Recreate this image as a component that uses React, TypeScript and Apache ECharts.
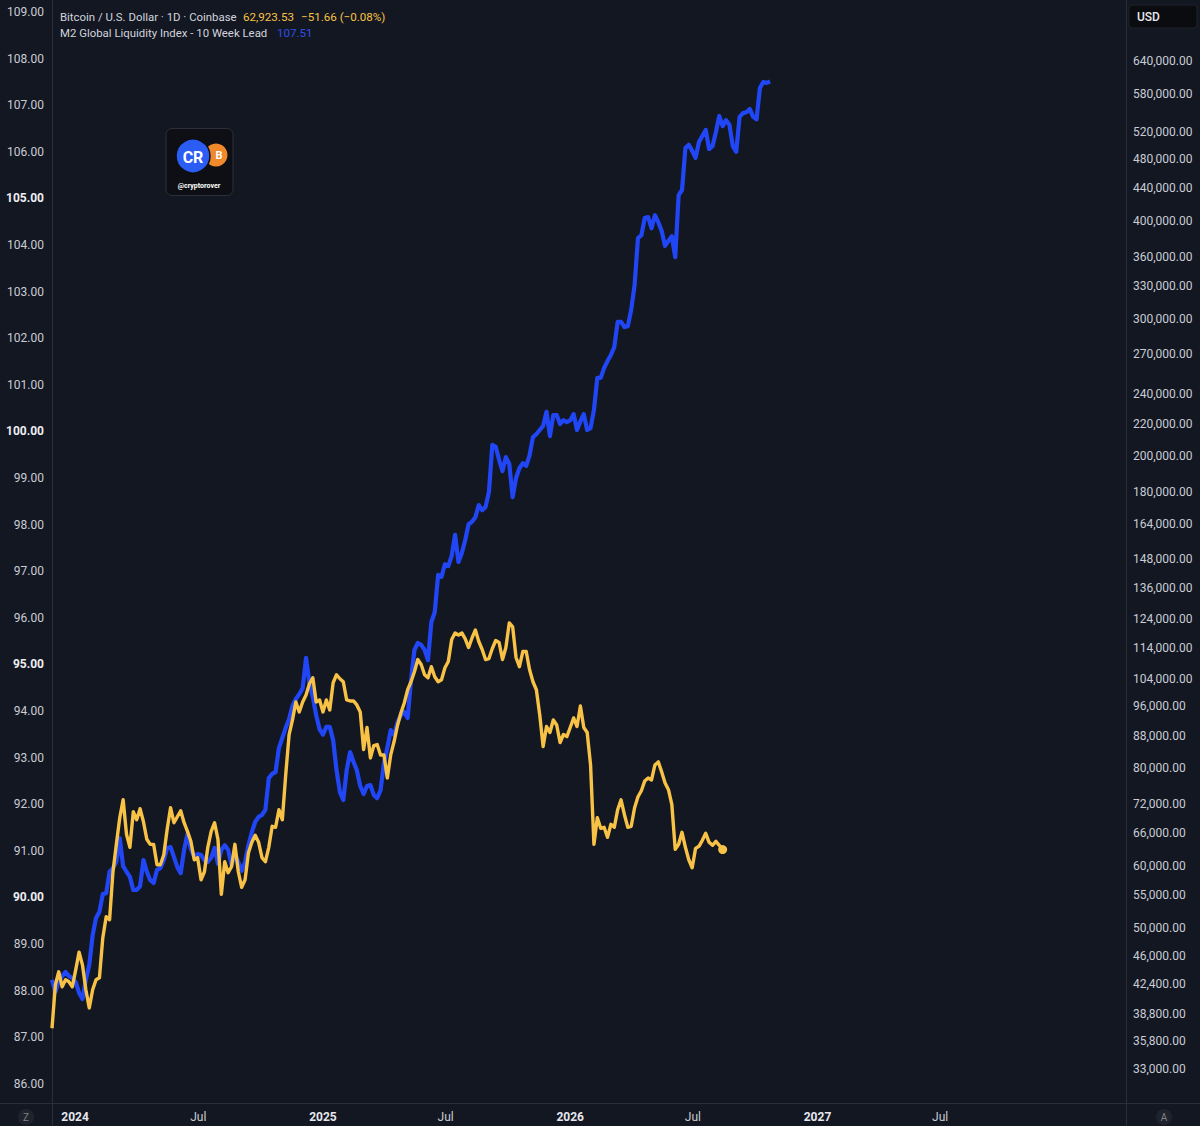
import React, { useEffect, useRef } from 'react';
import * as echarts from 'echarts';

// ---------- data ----------
const SERIES_START = '2023-11-28';
const STEP_DAYS = 5;

// M2 Global Liquidity Index - 10 Week Lead (left axis), one value every 5 days
const m2Values = [
  88.23, 87.97, 88.21, 88.31, 88.40, 88.31, 88.27, 88.18, 87.95, 87.82,
  88.23, 88.55, 89.19, 89.56, 89.69, 90.07, 90.09, 90.55, 90.63, 90.76,
  91.27, 90.67, 90.55, 90.44, 90.16, 90.16, 90.24, 90.80, 90.55, 90.37,
  90.31, 90.59, 90.63, 90.80, 91.06, 91.08, 90.87, 90.65, 90.52, 91.02,
  91.36, 91.04, 90.87, 90.93, 90.91, 90.80, 90.76, 90.85, 91.06, 90.72,
  91.02, 91.12, 91.02, 90.70, 90.93, 90.76, 90.57, 90.76, 91.12, 91.40,
  91.62, 91.73, 91.77, 91.88, 92.56, 92.65, 92.69, 93.21, 93.42, 93.64,
  93.83, 94.11, 94.26, 94.36, 94.49, 95.14, 94.60, 94.30, 93.91, 93.61,
  93.49, 93.66, 93.66, 93.38, 92.73, 92.26, 92.09, 92.73, 93.12, 92.91,
  92.73, 92.39, 92.22, 92.39, 92.41, 92.20, 92.13, 92.30, 92.88, 93.21,
  93.59, 93.49, 93.76, 93.91, 93.98, 93.85, 94.67, 95.31, 95.46, 95.42,
  95.31, 95.09, 95.91, 96.12, 96.92, 96.88, 97.15, 97.11, 97.33, 97.78,
  97.20, 97.39, 97.67, 98.01, 98.06, 98.16, 98.42, 98.31, 98.38, 98.70,
  99.71, 99.67, 99.39, 99.15, 99.45, 99.30, 98.59, 99.00, 99.21, 99.32,
  99.26, 99.49, 99.88, 99.94, 100.03, 100.12, 100.42, 99.90, 100.35, 100.35,
  100.16, 100.24, 100.20, 100.24, 100.37, 100.03, 100.22, 100.37, 100.03, 100.07,
  100.46, 101.15, 101.15, 101.36, 101.51, 101.64, 101.81, 102.35, 102.35, 102.24,
  102.26, 102.61, 103.14, 104.15, 104.21, 104.58, 104.60, 104.36, 104.64, 104.49,
  104.30, 103.98, 104.09, 104.19, 103.74, 105.07, 105.18, 106.08, 106.15, 106.02,
  105.87, 106.21, 106.34, 106.47, 106.06, 106.12, 106.42, 106.77, 106.55, 106.68,
  106.58, 106.12, 106.00, 106.75, 106.83, 106.85, 106.92, 106.75, 106.70, 107.37,
  107.50, 107.48, 107.51,
];

// Bitcoin / U.S. Dollar (right, log axis), one value every 5 days
const btcValues = [
  37200, 42280, 43920, 42030, 42900, 42650, 42030, 44180, 46540, 44800,
  41660, 39490, 41660, 42900, 43150, 48550, 51640, 51190, 58950, 63900,
  69100, 72850, 65800, 63340, 70330, 68690, 70950, 68290, 64850, 63900,
  63900, 60180, 60180, 61970, 66780, 71160, 68090, 69300, 70530, 68090,
  66390, 64470, 61070, 61430, 57580, 58950, 63340, 66390, 68090, 64850,
  55160, 60710, 58780, 59820, 63900, 58950, 56310, 57580, 62340, 64280,
  65610, 64280, 61430, 60710, 63340, 67380, 67180, 70740, 68690, 78370,
  88260, 92130, 97140, 94320, 97140, 99160, 102480, 104300, 97140, 97710,
  94320, 97710, 94880, 102780, 105230, 104000, 103090, 97710, 97420, 97420,
  96280, 94320, 84450, 90100, 82390, 85450, 85700, 83120, 83120, 77680,
  83120, 86460, 90630, 94040, 96850, 100690, 103090, 106160, 110050, 108440,
  105230, 104300, 107740, 104610, 103090, 103700, 107420, 109400, 116710, 119000,
  118300, 119000, 116920, 114000, 117260, 120050, 116030, 113330, 110050, 110370,
  113670, 116370, 115690, 110050, 114000, 122550, 121120, 110700, 107740, 112670,
  112670, 106790, 103090, 100690, 93490, 85200, 90360, 88780, 92130, 90780,
  86210, 88260, 87740, 90100, 92670, 90360, 96000, 90100, 88780, 80710,
  63900, 69100, 66980, 67180, 65230, 67770, 67180, 70740, 72850, 69710,
  67180, 67380, 71160, 73500, 74810, 77000, 77680, 77230, 80710, 81430,
  79070, 76550, 75030, 71790, 62970, 63900, 66200, 63340, 61070, 59650,
  63150, 63530, 64660, 66000, 64280, 63720, 64470, 63720, 62923.53,
];

const leftTicks = [86, 87, 88, 89, 90, 91, 92, 93, 94, 95, 96, 97, 98, 99, 100, 101, 102, 103, 104, 105, 106, 107, 108, 109];
const boldLeftTicks = [90, 95, 100, 105];
const rightTicks = [
  33000, 35800, 38800, 42400, 46000, 50000, 55000, 60000, 66000, 72000, 80000,
  88000, 96000, 104000, 114000, 124000, 136000, 148000, 164000, 180000, 200000,
  220000, 240000, 270000, 300000, 330000, 360000, 400000, 440000, 480000, 520000,
  580000, 640000,
];
const xTickDates = ['2024-01-01', '2024-07-01', '2025-01-01', '2025-07-01', '2026-01-01', '2026-07-01', '2027-01-01', '2027-07-01'];

const btcTitle = 'Bitcoin / U.S. Dollar · 1D · Coinbase';
const btcLastText = '62,923.53';
const btcChangeText = '−51.66 (−0.08%)';
const m2Title = 'M2 Global Liquidity Index - 10 Week Lead';
const m2LastText = '107.51';

// ---------- styles ----------
const BG = '#131722';
const SEP = '#2a2e39';
const BLUE = '#2146f6';
const YELLOW = '#f7c245';
const LABEL = '#c9ccd4';
const FONT = 'Roboto, "Noto Sans", "DejaVu Sans", sans-serif';
const DAY = 86400000;

export default function App() {
  const ref = useRef<HTMLDivElement>(null);

  useEffect(() => {
    document.body.style.margin = '0';
    document.body.style.background = BG;
    if (!ref.current) return;
    const chart = echarts.init(ref.current, undefined, { renderer: 'svg' });

    const t0 = Date.parse(SERIES_START + 'T00:00:00Z');
    const m2Data = m2Values.map((v, i) => [t0 + i * STEP_DAYS * DAY, v]);
    const btcData = btcValues.map((v, i) => [t0 + i * STEP_DAYS * DAY, v]);
    const lastBtc = btcData[btcData.length - 1];
    const xMin = t0;
    const xMax = Date.parse('2024-01-01T00:00:00Z') + 1551.4 * DAY;
    const xTicks = xTickDates.map((d) => Date.parse(d + 'T00:00:00Z'));

    const txt = (x: number, y: number, text: string, fill: string, size = 12, weight: any = 'normal', align = 'left') => ({
      type: 'text',
      x,
      y,
      silent: true,
      style: {
        text,
        fill,
        fontSize: size,
        fontFamily: FONT,
        fontWeight: weight,
        align,
        textAlign: align,
        verticalAlign: 'middle',
        textVerticalAlign: 'middle',
      },
    });

    const option: any = {
      animation: false,
      backgroundColor: BG,
      grid: { left: 52, right: 74, top: 0, bottom: 23, containLabel: false },
      xAxis: {
        type: 'value',
        min: xMin,
        max: xMax,
        axisLine: { show: false },
        axisTick: { show: false },
        splitLine: { show: false },
        axisLabel: {
          customValues: xTicks,
          margin: 8,
          formatter: (v: number) => {
            const d = new Date(v);
            return d.getUTCMonth() === 0 ? `{y|${d.getUTCFullYear()}}` : '{m|Jul}';
          },
          rich: {
            y: { color: '#e6e8ee', fontWeight: 'bold', fontSize: 12, fontFamily: FONT },
            m: { color: LABEL, fontSize: 12, fontFamily: FONT },
          },
        },
      },
      yAxis: [
        {
          type: 'value',
          position: 'left',
          min: 85.588,
          max: 109.258,
          axisLine: { show: false },
          axisTick: { show: false },
          splitLine: { show: false },
          axisLabel: {
            customValues: leftTicks,
            margin: 8,
            formatter: (v: number) => {
              const s = v.toFixed(2);
              return boldLeftTicks.includes(Math.round(v)) ? `{b|${s}}` : `{n|${s}}`;
            },
            rich: {
              b: { color: '#eceef2', fontWeight: 'bold', fontSize: 12, fontFamily: FONT },
              n: { color: LABEL, fontSize: 12, fontFamily: FONT },
            },
          },
        },
        {
          type: 'log',
          position: 'right',
          min: 29858,
          max: 765760,
          axisLine: { show: false },
          axisTick: { show: false },
          splitLine: { show: false },
          axisLabel: {
            customValues: rightTicks,
            margin: 7,
            color: LABEL,
            fontSize: 12,
            fontFamily: FONT,
            formatter: (v: number) =>
              Math.round(v).toLocaleString('en-US', { minimumFractionDigits: 2, maximumFractionDigits: 2 }),
          },
        },
      ],
      series: [
        {
          name: m2Title,
          type: 'line',
          yAxisIndex: 0,
          data: m2Data,
          showSymbol: false,
          symbol: 'none',
          lineStyle: { color: BLUE, width: 4.2, join: 'round' },
          itemStyle: { color: BLUE },
          z: 2,
        },
        {
          name: btcTitle,
          type: 'line',
          yAxisIndex: 1,
          data: btcData,
          showSymbol: false,
          symbol: 'none',
          lineStyle: { color: YELLOW, width: 3.4, join: 'round' },
          itemStyle: { color: YELLOW },
          z: 3,
        },
        {
          type: 'scatter',
          yAxisIndex: 1,
          data: [lastBtc],
          symbolSize: 9,
          itemStyle: { color: YELLOW, opacity: 1 },
          z: 4,
        },
      ],
      graphic: [
        { type: 'line', silent: true, shape: { x1: 52.5, y1: 0, x2: 52.5, y2: 1126 }, style: { stroke: SEP, lineWidth: 1 } },
        { type: 'line', silent: true, shape: { x1: 1126.5, y1: 0, x2: 1126.5, y2: 1126 }, style: { stroke: SEP, lineWidth: 1 } },
        { type: 'line', silent: true, shape: { x1: 0, y1: 1103.5, x2: 1200, y2: 1103.5 }, style: { stroke: SEP, lineWidth: 1 } },
        // legend
        txt(60, 17, btcTitle, '#d1d4dc', 11.4),
        txt(243, 17, btcLastText, YELLOW, 11.6),
        txt(301, 17, btcChangeText, YELLOW, 11.6),
        txt(60, 33, m2Title, '#d1d4dc', 11.4),
        txt(277, 33, m2LastText, '#2f4fe6', 11.6),
        // logo
        { type: 'rect', silent: true, shape: { x: 166, y: 128.5, width: 67, height: 67, r: 6 }, style: { fill: '#0d0f15', stroke: '#2c303b', lineWidth: 1 } },
        { type: 'circle', silent: true, shape: { cx: 216, cy: 155, r: 11.5 }, style: { fill: '#f0892b' } },
        txt(219, 155, 'B', '#ffffff', 11, 'bold', 'center'),
        { type: 'circle', silent: true, shape: { cx: 193, cy: 156, r: 17 }, style: { fill: '#2b5cf3', stroke: '#0d0f15', lineWidth: 1.5 } },
        txt(193, 157, 'CR', '#ffffff', 16, 'bold', 'center'),
        txt(199, 186, '@cryptorover', '#ffffff', 7, 'bold', 'center'),
        // USD box
        { type: 'rect', silent: true, shape: { x: 1129, y: 5, width: 68, height: 23, r: 3 }, style: { fill: '#0b0c10', stroke: '#1f222b', lineWidth: 1 } },
        txt(1137, 17, 'USD', '#e6e8ee', 12, 500),
        // Z / A buttons
        { type: 'circle', silent: true, shape: { cx: 26, cy: 1117, r: 8 }, style: { fill: '#20232c' } },
        txt(26, 1117.5, 'Z', '#7d808a', 10, 'normal', 'center'),
        { type: 'circle', silent: true, shape: { cx: 1164, cy: 1117, r: 8 }, style: { fill: '#20232c' } },
        txt(1164, 1117.5, 'A', '#7d808a', 10, 'normal', 'center'),
      ],
    };

    chart.setOption(option);
    return () => chart.dispose();
  }, []);

  return <div ref={ref} style={{ width: 1200, height: 1126 }} />;
}
